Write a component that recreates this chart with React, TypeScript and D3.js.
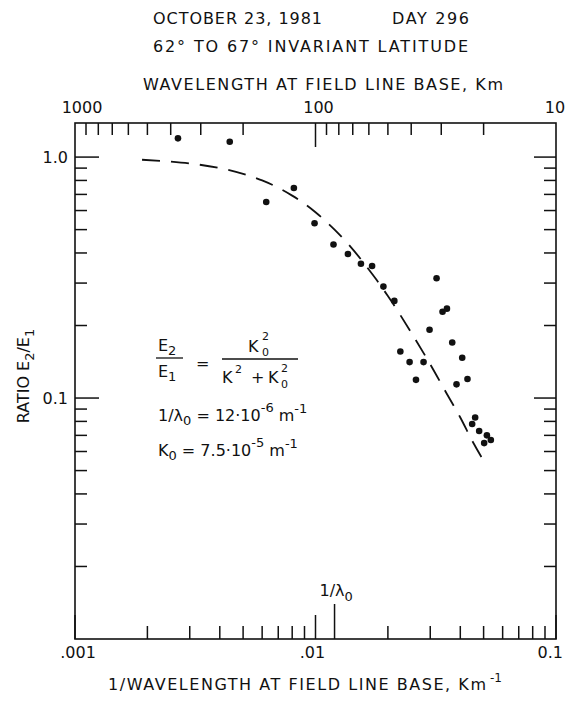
import React from "react";
import * as d3 from "d3";

// measured points: 1/wavelength (km^-1) and ratio E2/E1
const pointK = [
  0.00268, 0.0044, 0.00624, 0.00813, 0.00991, 0.01188, 0.01364, 0.01545, 0.01719,
  0.01916, 0.02127, 0.03187, 0.03375, 0.0352, 0.0298, 0.03703, 0.02253, 0.04074,
  0.02462, 0.02814, 0.02617, 0.04285, 0.03858, 0.04612, 0.04482, 0.04792, 0.0516,
  0.05358, 0.05027,
];
const pointRatio = [
  1.196, 1.157, 0.651, 0.744, 0.531, 0.434, 0.396, 0.361, 0.353, 0.29, 0.253,
  0.314, 0.228, 0.235, 0.192, 0.17, 0.156, 0.147, 0.141, 0.141, 0.119, 0.12,
  0.114, 0.083, 0.078, 0.073, 0.07, 0.067, 0.065,
];

// dashed model curve
const curveK = [
  0.0019, 0.0025, 0.003, 0.004, 0.005, 0.006, 0.007, 0.008, 0.009, 0.01, 0.012,
  0.014, 0.016, 0.018, 0.02, 0.025, 0.03, 0.035, 0.04, 0.045, 0.0505,
];
const curveRatio = [
  0.975, 0.958, 0.941, 0.9, 0.852, 0.8, 0.746, 0.692, 0.64, 0.59, 0.5, 0.424,
  0.36, 0.308, 0.265, 0.187, 0.138, 0.105, 0.083, 0.066, 0.054,
];

// axis ticks
const bottomMajor = [0.001, 0.01, 0.1];
const bottomLabels = [".001", ".01", "0.1"];
const bottomMinor = [
  0.002, 0.003, 0.004, 0.005, 0.006, 0.007, 0.008, 0.009, 0.02, 0.03, 0.04, 0.05,
  0.06, 0.07, 0.08, 0.09,
];
const lambda0K = 0.012;
const topMajor = [1000, 100, 10];
const topMinor = [900, 800, 700, 600, 500, 400, 300, 200, 90, 80, 70, 60, 50, 40, 30, 20];
const yMajor = [0.1, 1.0];
const yLabels = ["0.1", "1.0"];
const yMinor = [
  0.02, 0.03, 0.04, 0.05, 0.06, 0.07, 0.08, 0.09, 0.2, 0.3, 0.4, 0.5, 0.6, 0.7,
  0.8, 0.9,
];

const W = 565;
const H = 704;
const left = 75;
const right = 556;
const top = 123;
const bottom = 639;
const font = "'DejaVu Sans', sans-serif";

export default function App() {
  const x = d3.scaleLog().domain([0.001, 0.1]).range([left, right]);
  const y = d3.scaleLog().domain([0.01, 1.385]).range([bottom, top]);

  const curveData = curveK.map((k, i) => [k, curveRatio[i]] as [number, number]);
  const line = d3
    .line<[number, number]>()
    .x((d) => x(d[0]))
    .y((d) => y(d[1]))
    .curve(d3.curveMonotoneX);

  const stroke = "#111";
  const txt = { fontFamily: font, fontSize: 16, fill: "#111" } as const;

  return (
    <svg
      width={W}
      height={H}
      style={{ position: "absolute", left: 0, top: 0, background: "#fff" }}
    >
      {/* titles */}
      <text {...txt} x={153} y={24} textLength={169} lengthAdjust="spacing">
        OCTOBER 23, 1981
      </text>
      <text {...txt} x={392} y={24} textLength={77} lengthAdjust="spacing">
        DAY 296
      </text>
      <text {...txt} x={153} y={52} textLength={315} lengthAdjust="spacing">
        62° TO 67° INVARIANT LATITUDE
      </text>
      <text {...txt} x={143} y={90} textLength={360} lengthAdjust="spacing">
        WAVELENGTH AT FIELD LINE BASE, Km
      </text>

      {/* frame */}
      <rect
        x={left}
        y={top}
        width={right - left}
        height={bottom - top}
        fill="none"
        stroke={stroke}
        strokeWidth={1.6}
      />

      {/* bottom ticks */}
      {bottomMinor.map((t) => (
        <line key={"bm" + t} x1={x(t)} x2={x(t)} y1={bottom} y2={bottom - 13} stroke={stroke} strokeWidth={1.5} />
      ))}
      {bottomMajor.map((t, i) => (
        <g key={"bM" + t}>
          <line x1={x(t)} x2={x(t)} y1={bottom} y2={bottom - 24} stroke={stroke} strokeWidth={1.5} />
          <text
            {...txt}
            x={i === 2 ? W - 2 : x(t) + (i === 0 ? 3 : -3)}
            y={658}
            textAnchor={i === 2 ? "end" : "middle"}
          >
            {bottomLabels[i]}
          </text>
        </g>
      ))}
      <line x1={x(lambda0K)} x2={x(lambda0K)} y1={bottom} y2={bottom - 35} stroke={stroke} strokeWidth={1.5} />
      <text {...txt} x={x(lambda0K) - 15} y={596}>
        1/λ
        <tspan fontSize={13} dy={5}>0</tspan>
      </text>
      <text {...txt} x={108} y={690} textLength={378} lengthAdjust="spacing">
        1/WAVELENGTH AT FIELD LINE BASE, Km
      </text>
      <text {...txt} x={490} y={682} fontSize={12}>
        -1
      </text>

      {/* top ticks (wavelength) */}
      {topMinor.map((t) => (
        <line key={"tm" + t} x1={x(1 / t)} x2={x(1 / t)} y1={top} y2={top + 12} stroke={stroke} strokeWidth={1.5} />
      ))}
      {topMajor.map((t, i) => (
        <g key={"tM" + t}>
          {i === 1 && (
            <line x1={x(1 / t)} x2={x(1 / t)} y1={top} y2={top + 24} stroke={stroke} strokeWidth={1.5} />
          )}
          <text {...txt} x={x(1 / t) + (i === 0 ? 7 : i === 1 ? 3 : -1)} y={113} textAnchor="middle">
            {t}
          </text>
        </g>
      ))}

      {/* left and right ticks */}
      {yMinor.map((t) => (
        <g key={"ym" + t}>
          <line x1={left} x2={left + 12} y1={y(t)} y2={y(t)} stroke={stroke} strokeWidth={1.5} />
          <line x1={right} x2={right - 12} y1={y(t)} y2={y(t)} stroke={stroke} strokeWidth={1.5} />
        </g>
      ))}
      {yMajor.map((t, i) => (
        <g key={"yM" + t}>
          <line x1={left} x2={left + 24} y1={y(t)} y2={y(t)} stroke={stroke} strokeWidth={1.5} />
          <line x1={right} x2={right - 22} y1={y(t)} y2={y(t)} stroke={stroke} strokeWidth={1.5} />
          <text {...txt} x={68} y={y(t) + 6} textAnchor="end">
            {yLabels[i]}
          </text>
        </g>
      ))}
      <text
        {...txt}
        transform="translate(29,376) rotate(-90)"
        textAnchor="middle"
      >
        RATIO E
        <tspan fontSize={13} dy={5}>2</tspan>
        <tspan dy={-5}>/E</tspan>
        <tspan fontSize={13} dy={5}>1</tspan>
      </text>

      {/* model curve */}
      <path
        d={line(curveData) ?? ""}
        fill="none"
        stroke={stroke}
        strokeWidth={1.8}
        strokeDasharray="18 11"
      />

      {/* data points */}
      {pointK.map((k, i) => (
        <circle key={"p" + i} cx={x(k)} cy={y(pointRatio[i])} r={3.3} fill={stroke} />
      ))}

      {/* formula */}
      <g {...txt}>
        <text x={158} y={351}>
          E<tspan fontSize={13} dy={4}>2</tspan>
        </text>
        <line x1={156} x2={183} y1={358} y2={358} stroke={stroke} strokeWidth={1.3} />
        <text x={158} y={377}>
          E<tspan fontSize={13} dy={4}>1</tspan>
        </text>
        <text x={196} y={369}>=</text>
        <text x={248} y={352}>K</text>
        <text x={262} y={340} fontSize={11}>2</text>
        <text x={262} y={356} fontSize={11}>0</text>
        <line x1={222} x2={298} y1={359} y2={359} stroke={stroke} strokeWidth={1.3} />
        <text x={222} y={383}>K</text>
        <text x={235} y={373} fontSize={11}>2</text>
        <text x={251} y={383}>+</text>
        <text x={268} y={383}>K</text>
        <text x={281} y={372} fontSize={11}>2</text>
        <text x={281} y={388} fontSize={11}>0</text>

        <text x={158} y={421}>
          1/λ<tspan fontSize={13} dy={4}>0</tspan>
          <tspan dy={-4}> = 12·10</tspan>
          <tspan fontSize={13} dy={-9}>-6</tspan>
          <tspan dy={9}>  m</tspan>
          <tspan fontSize={13} dy={-8}>-1</tspan>
        </text>
        <text x={158} y={456}>
          K<tspan fontSize={13} dy={4}>0</tspan>
          <tspan dy={-4}> = 7.5·10</tspan>
          <tspan fontSize={13} dy={-9}>-5</tspan>
          <tspan dy={9}>  m</tspan>
          <tspan fontSize={13} dy={-8}>-1</tspan>
        </text>
      </g>
    </svg>
  );
}
